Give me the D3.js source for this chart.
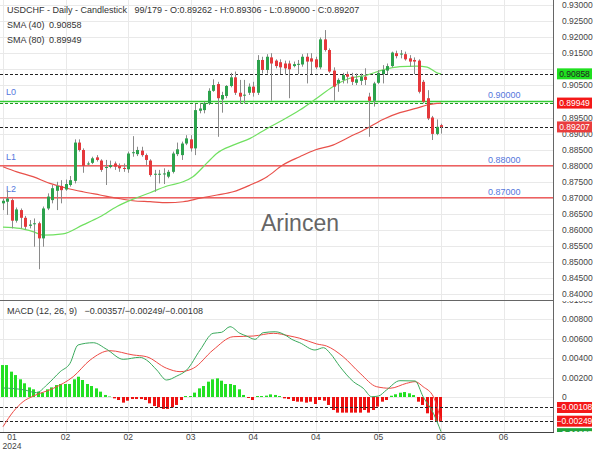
<!DOCTYPE html>
<html>
<head>
<meta charset="utf-8">
<script src="https://cdnjs.cloudflare.com/ajax/libs/d3/7.8.5/d3.min.js"></script>
<style>
  body { margin: 0; background: #fff; }
  svg { display: block; font-family: "Liberation Sans", Arial, sans-serif; }
</style>
</head>
<body>
<div id="chart"></div>
<script>
// ---- data ----
// daily candles, [open, high, low, close]
var ohlc = [
  [.8683,.8698,.8662,.8691],[.8688,.8724,.8647,.8698],[.8693,.8698,.8605,.8629],[.8629,.8670,.8623,.8664],
  [.8662,.8667,.8605,.8638],[.8638,.8644,.8602,.8610],[.8613,.8631,.8605,.8617],[.8618,.8636,.8548,.8621],
  [.8621,.8626,.8478,.8574],[.8574,.8673,.8548,.8667],[.8667,.8714,.8662,.8704],[.8693,.8740,.8683,.8730],
  [.8722,.8750,.8662,.8737],[.8737,.8755,.8683,.8724],[.8726,.8757,.8722,.8743],[.8740,.8768,.8735,.8755],
  [.8753,.8882,.8745,.8872],[.8872,.8882,.8844,.8849],[.8849,.8854,.8778,.8799],[.8805,.8813,.8801,.8807],
  [.8809,.8828,.8805,.8823],[.8826,.8833,.8813,.8818],[.8816,.8820,.8781,.8787],[.8794,.8818,.8740,.8796],
  [.8796,.8816,.8792,.8802],[.8807,.8813,.8787,.8797],[.8799,.8807,.8781,.8792],[.8793,.8807,.8781,.8791],
  [.8789,.8844,.8778,.8838],[.8840,.8892,.8828,.8842],[.8836,.8859,.8830,.8849],[.8847,.8859,.8828,.8833],
  [.8833,.8838,.8802,.8818],[.8816,.8820,.8766,.8771],[.8773,.8787,.8719,.8775],[.8772,.8787,.8745,.8775],
  [.8773,.8792,.8743,.8776],[.8766,.8787,.8761,.8781],[.8781,.8844,.8776,.8838],[.8836,.8872,.8830,.8851],
  [.8833,.8875,.8818,.8869],[.8869,.8895,.8864,.8885],[.8882,.8895,.8844,.8854],[.8854,.8992,.8833,.8973],
  [.8971,.8994,.8963,.8978],[.8973,.8999,.8963,.8994],[.8994,.9041,.8989,.9033],[.9033,.9069,.9030,.9051],
  [.9054,.9061,.8890,.9010],[.9006,.9030,.8965,.9020],[.9017,.9051,.9010,.9048],[.9048,.9089,.9044,.9075],
  [.9075,.9093,.9020,.9027],[.9027,.9067,.8992,.9015],[.9019,.9067,.8994,.9021],[.9027,.9056,.9020,.9046],
  [.9046,.9061,.9015,.9027],[.9027,.9144,.9020,.9129],[.9129,.9139,.9087,.9098],[.9098,.9147,.9087,.9139],
  [.9137,.9150,.9002,.9118],[.9127,.9131,.9103,.9110],[.9122,.9131,.9085,.9106],[.9118,.9127,.9082,.9103],
  [.9118,.9127,.9010,.9100],[.9110,.9124,.9106,.9116],[.9115,.9129,.9085,.9117],[.9115,.9147,.9108,.9139],
  [.9139,.9150,.9056,.9124],[.9134,.9150,.9085,.9124],[.9131,.9139,.9100,.9106],[.9106,.9199,.9100,.9193],
  [.9193,.9222,.9155,.9160],[.9160,.9165,.9089,.9093],[.9096,.9106,.9002,.9046],[.9056,.9072,.9030,.9067],
  [.9067,.9089,.9056,.9082],[.9085,.9093,.9056,.9077],[.9077,.9089,.9051,.9061],[.9058,.9087,.9051,.9069],
  [.9064,.9087,.9051,.9077],[.9077,.9103,.9051,.9067],[.9015,.9027,.8890,.9002],[.9002,.9061,.8984,.9056],
  [.9058,.9098,.9054,.9089],[.9085,.9113,.9056,.9098],[.9096,.9118,.9085,.9110],[.9110,.9155,.9106,.9152],
  [.9150,.9158,.9134,.9141],[.9146,.9160,.9134,.9149],[.9147,.9155,.9127,.9131],[.9134,.9144,.9108,.9124],
  [.9129,.9137,.9085,.9124],[.9127,.9131,.9025,.9030],[.9061,.9067,.8994,.8999],[.9010,.9035,.8942,.8947],
  [.8950,.8955,.8880,.8899],[.8899,.8944,.8895,.8921],[.89262,.89306,.89000,.89207]
];

// moving averages, [bar, value]
var sma40 = [[0,.8609],[3.8,.8605],[6.7,.8595],[9,.8584],[13.4,.8588],[17.9,.8616],[21.7,.8641],
  [25.5,.8673],[29.1,.8696],[32.9,.8716],[36.7,.8737],[40.3,.8750],[42.5,.8766],[45.6,.8808],
  [47.9,.8839],[51.5,.8864],[55.3,.8885],[59.1,.8916],[62.6,.8942],[66.4,.8973],[70.2,.9010],
  [73.8,.9046],[77.6,.9072],[81.4,.9082],[85,.9098],[88.8,.9108],[92.6,.9110],[94.9,.9107],
  [97.1,.9089],[98,.90858]];
var sma80 = [[0,.8797],[3.1,.8781],[6.7,.8766],[10.5,.8745],[14.3,.8730],[17.9,.8719],[21.7,.8709],
  [25.5,.8699],[29.1,.8691],[32.9,.8688],[36.7,.8685],[40.3,.8688],[44.1,.8699],[47.9,.8709],
  [51.5,.8719],[55.3,.8740],[59.1,.8766],[62.6,.8802],[66.4,.8828],[69.8,.8849],[73.8,.8864],
  [77.6,.8890],[81.4,.8916],[85,.8944],[88.8,.8965],[92.6,.8979],[94.9,.8989],[97.1,.8994],[98,.89949]];

// price levels
var levelNames = ["L0", "L1", "L2"];
var levelValues = [0.90, 0.88, 0.87];
var levelColors = ["#33cc33", "#f06060", "#f06060"];

// MACD (12, 26, 9), [bar, value]
var macdLine = [[0,.00093],[4.9,.00072],[7.5,.00044],[9.8,.00124],[12.8,.00261],[15,.00347],[16.8,.00536],
  [20.2,.00559],[23.2,.00491],[26.9,.00388],[30.6,.00409],[32.1,.00381],[34.4,.00278],[36.6,.00175],
  [38.9,.00216],[41.1,.00278],[44.1,.00484],[47,.00656],[48.9,.00666],[50.8,.00724],[53,.00656],
  [54.5,.00628],[56.4,.00594],[58.2,.00662],[60.9,.00672],[63.5,.00628],[64.6,.00594],[66.4,.00559],
  [69.8,.00484],[71.7,.00508],[73.2,.00450],[75.4,.00312],[78.4,.00158],[80.6,.00090],[82.5,.00003],
  [84,.00010],[85.8,.00072],[88.8,.00168],[92.2,.00165],[94,.00003],[96.3,-.00168],[98,-.00357]];
var signalLine = [[0,-.00306],[2.3,-.00151],[4.5,-.00048],[6.8,.00010],[11.3,.00090],[15.7,.00209],
  [19.5,.00381],[23.9,.00477],[29.1,.00433],[32.1,.00415],[36.6,.00296],[39.6,.00261],[42.6,.00296],
  [47,.00484],[51.5,.00621],[56,.00628],[60.5,.00656],[64.2,.00628],[66.4,.00605],[70.2,.00546],
  [72.4,.00525],[76.1,.00415],[79.9,.00244],[83.6,.00106],[86.6,.00090],[90.3,.00141],[92.2,.00158],
  [94,.00106],[96.3,.00003],[98,-.00249]];
var histogram = [.00329,.00329,.00261,.00226,.00182,.00141,.00099,.00079,.00055,.00045,
  .00079,.00099,.00123,.00134,.00134,.00134,.00182,.00209,.00175,.00134,
  .00113,.00089,.00055,.00021,.00005,-.00014,-.00031,-.00058,-.00038,-.00021,
  -.00021,-.00021,-.00031,-.00065,-.00093,-.00106,-.00123,-.00123,-.00106,-.00082,
  -.00031,.0001,.0001,.00045,.00089,.00113,.00158,.00182,.00192,.00168,
  .00134,.00134,.00123,.00079,.00021,-.0001,-.00031,.0001,.0001,.00014,
  .00027,.00021,.0001,-.00014,-.00021,-.00041,-.00048,-.00048,-.00058,-.00048,
  -.00072,-.00031,-.00038,-.00082,-.00134,-.00161,-.00161,-.00161,-.00161,-.00161,
  -.00161,-.00134,-.00161,-.00134,-.00099,-.00048,-.00031,.00013,.00028,.00044,
  .00051,.00038,.0002,-.00048,-.00082,-.00168,-.00237,-.00254,-.00254];

// axis ticks
var priceTicks = d3.range(0, 19).map(function(k) { return 0.84 + k * 0.005; });
var macdTicks = [-0.002, 0, 0.002, 0.004, 0.006, 0.008, 0.010];
var dateTickBars = [0, 14, 28, 42, 56, 70, 84, 98, 112];
var dateTickLabels = ["01", "02", "02", "03", "04", "04", "05", "06", "06"];

// current values shown as tags on the right
var smaLast = [0.90858, 0.89949];
var lastClose = 0.89207;
var macdLast = [-0.00357, -0.00249, -0.00108];

// ---- layout ----
var W = 600, H = 450;
var plotRight = 553;
var panelSplit = 300, macdBottom = 432;
var fmt = d3.format(".5f");

var x = d3.scaleLinear().domain([0, 98]).range([3, 441]);
var y = d3.scaleLinear().domain([0.84, 0.93]).range([294.3, 5]);
var ym = d3.scaleLinear().domain([0, 0.01]).range([397, 299.9]);

var svg = d3.select("#chart").append("svg")
    .attr("width", W)
    .attr("height", H);

var defs = svg.append("defs");
defs.append("clipPath").attr("id", "clipPrice")
  .append("rect").attr("x", 0).attr("y", 0).attr("width", plotRight).attr("height", panelSplit);
defs.append("clipPath").attr("id", "clipMacd")
  .append("rect").attr("x", 0).attr("y", panelSplit).attr("width", plotRight).attr("height", macdBottom - panelSplit);
defs.append("clipPath").attr("id", "clipPriceAxis")
  .append("rect").attr("x", plotRight).attr("y", 0).attr("width", W - plotRight).attr("height", panelSplit);
defs.append("clipPath").attr("id", "clipMacdAxis")
  .append("rect").attr("x", plotRight).attr("y", panelSplit + 1).attr("width", W - plotRight).attr("height", H - panelSplit);
defs.append("clipPath").attr("id", "clipMacdAxisLow")
  .append("rect").attr("x", plotRight).attr("y", panelSplit).attr("width", 50).attr("height", macdBottom - panelSplit);

var gridColor = "#e9e9e9";

// Grid lines
var grid = svg.append("g");
grid.selectAll(".hp").data(priceTicks).enter().append("line")
    .attr("x1", 0).attr("x2", plotRight)
    .attr("y1", function(d) { return Math.round(y(d)) + 0.5; })
    .attr("y2", function(d) { return Math.round(y(d)) + 0.5; })
    .attr("stroke", gridColor);
grid.selectAll(".hm").data(macdTicks.filter(function(d) { return d < 0.01; })).enter().append("line")
    .attr("x1", 0).attr("x2", plotRight)
    .attr("y1", function(d) { return Math.round(ym(d)) + 0.5; })
    .attr("y2", function(d) { return Math.round(ym(d)) + 0.5; })
    .attr("stroke", gridColor);
grid.selectAll(".v").data(dateTickBars).enter().append("line")
    .attr("x1", function(d) { return Math.round(x(d)) + 0.5; })
    .attr("x2", function(d) { return Math.round(x(d)) + 0.5; })
    .attr("y1", 0).attr("y2", macdBottom)
    .attr("stroke", gridColor);

// Watermark
svg.append("text")
    .attr("x", 300).attr("y", 231)
    .attr("text-anchor", "middle")
    .style("font-size", "23px")
    .style("fill", "#666")
    .text("Arincen");

// Price panel
var price = svg.append("g").attr("clip-path", "url(#clipPrice)");

// Level lines
levelValues.forEach(function(v, k) {
    price.append("line")
        .attr("x1", 0).attr("x2", plotRight)
        .attr("y1", y(v)).attr("y2", y(v))
        .attr("stroke", levelColors[k])
        .attr("stroke-width", 1.5);
    price.append("text")
        .attr("x", 6).attr("y", y(v) - 6)
        .style("font-size", "9px").style("fill", "#5577dd")
        .text(levelNames[k]);
    price.append("text")
        .attr("x", 488).attr("y", y(v) - 3)
        .style("font-size", "9px").style("fill", "#5577dd")
        .text(fmt(v));
});

// Dashed lines for current values
[smaLast[0], lastClose].forEach(function(v) {
    price.append("line")
        .attr("x1", 0).attr("x2", plotRight)
        .attr("y1", Math.round(y(v)) + 0.5).attr("y2", Math.round(y(v)) + 0.5)
        .attr("stroke", "#222")
        .attr("stroke-dasharray", "3,2");
});
price.append("line")
    .attr("x1", 0).attr("x2", plotRight)
    .attr("y1", Math.round(y(smaLast[1])) + 0.5).attr("y2", Math.round(y(smaLast[1])) + 0.5)
    .attr("stroke", "#1f9a1f")
    .attr("stroke-dasharray", "3,2");

// Moving averages
var maLine = d3.line()
    .x(function(d) { return x(d[0]); })
    .y(function(d) { return y(d[1]); })
    .curve(d3.curveMonotoneX);
price.append("path").datum(sma80)
    .attr("fill", "none").attr("stroke", "#e8504a").attr("stroke-width", 1.2)
    .attr("d", maLine);
price.append("path").datum(sma40)
    .attr("fill", "none").attr("stroke", "#70e060").attr("stroke-width", 1.2)
    .attr("d", maLine);

// Candles
var candles = price.selectAll(".candle").data(ohlc).enter().append("g");
candles.append("line")
    .attr("x1", function(d, i) { return Math.round(x(i)) + 0.5; })
    .attr("x2", function(d, i) { return Math.round(x(i)) + 0.5; })
    .attr("y1", function(d) { return y(d[1]); })
    .attr("y2", function(d) { return y(d[2]); })
    .attr("stroke", "#8a8a8a");
candles.append("rect")
    .attr("x", function(d, i) { return Math.round(x(i)) - 1; })
    .attr("width", 3)
    .attr("y", function(d) { return y(Math.max(d[0], d[3])); })
    .attr("height", function(d) { return Math.max(1, Math.abs(y(d[0]) - y(d[3]))); })
    .attr("fill", function(d) { return d[3] >= d[0] ? "#2ca24c" : "#e5383b"; });

// MACD panel
var macd = svg.append("g").attr("clip-path", "url(#clipMacd)");

macd.selectAll(".bar").data(histogram).enter().append("rect")
    .attr("x", function(d, i) { return Math.round(x(i)) - 2; })
    .attr("width", 3)
    .attr("y", function(d) { return Math.min(ym(d), ym(0)); })
    .attr("height", function(d) { return Math.abs(ym(d) - ym(0)); })
    .attr("fill", function(d) { return d >= 0 ? "#22e022" : "#ee1111"; });

[macdLast[2], macdLast[1]].forEach(function(v) {
    macd.append("line")
        .attr("x1", 0).attr("x2", plotRight)
        .attr("y1", Math.round(ym(v)) + 0.5).attr("y2", Math.round(ym(v)) + 0.5)
        .attr("stroke", "#222")
        .attr("stroke-dasharray", "3,2");
});

var mLine = d3.line()
    .x(function(d) { return x(d[0]); })
    .y(function(d) { return ym(d[1]); })
    .curve(d3.curveMonotoneX);
macd.append("path").datum(signalLine)
    .attr("fill", "none").attr("stroke", "#ee4a44").attr("stroke-width", 1)
    .attr("d", mLine);
macd.append("path").datum(macdLine)
    .attr("fill", "none").attr("stroke", "#3aaa5c").attr("stroke-width", 1)
    .attr("d", mLine);

// Frame lines
svg.append("line").attr("x1", plotRight + 0.5).attr("x2", plotRight + 0.5)
    .attr("y1", 0).attr("y2", macdBottom).attr("stroke", "#666");
svg.append("line").attr("x1", 0).attr("x2", plotRight)
    .attr("y1", panelSplit + 0.5).attr("y2", panelSplit + 0.5).attr("stroke", "#666");
svg.append("line").attr("x1", 0).attr("x2", plotRight + 1)
    .attr("y1", macdBottom + 0.5).attr("y2", macdBottom + 0.5).attr("stroke", "#444");

// Right axes (labels hidden behind a value tag are skipped)
var priceTags = smaLast.concat([lastClose]);
var macdTags = macdLast;
function hidden(v, tags, sc) {
    return tags.some(function(t) { return Math.abs(sc(v) - sc(t)) < 5; });
}

var priceAxis = svg.append("g").attr("clip-path", "url(#clipPriceAxis)");
priceAxis.selectAll("text").data(priceTicks.filter(function(d) { return !hidden(d, priceTags, y); }))
  .enter().append("text")
    .attr("x", 562).attr("y", function(d) { return y(d) + 3; })
    .style("font-size", "8.5px").style("fill", "#444")
    .text(fmt);

var macdAxis = svg.append("g").attr("clip-path", "url(#clipMacdAxis)");
macdAxis.selectAll("text").data(macdTicks.filter(function(d) { return !hidden(d, macdTags, ym); }))
  .enter().append("text")
    .attr("x", 562).attr("y", function(d) { return ym(d) + 3; })
    .style("font-size", "8.5px").style("fill", "#444")
    .text(function(d) { return d === 0 ? "0" : fmt(d); });

// Value tags
function tag(g, yy, txt, fill, color) {
    g.append("rect").attr("x", 557).attr("y", yy - 5.5).attr("width", 35).attr("height", 11)
        .attr("fill", fill);
    g.append("text").attr("x", 574.5).attr("y", yy + 3)
        .attr("text-anchor", "middle")
        .style("font-size", "8.5px").style("fill", color)
        .text(txt);
}
tag(priceAxis, y(smaLast[0]), fmt(smaLast[0]), "#1fe01f", "#222");
tag(priceAxis, y(smaLast[1]), fmt(smaLast[1]), "#f41818", "#fff");
tag(priceAxis, y(lastClose), fmt(lastClose), "#ea3d3d", "#fff");
tag(macdAxis, ym(macdLast[2]), fmt(macdLast[2]), "#f41818", "#fff");
tag(macdAxis, ym(macdLast[1]), fmt(macdLast[1]), "#f41818", "#fff");
var lowTag = svg.append("g").attr("clip-path", "url(#clipMacdAxisLow)");
tag(lowTag, ym(macdLast[0]) + 2, fmt(macdLast[0]), "#22a23a", "#fff");

// Date axis
svg.selectAll(".dt").data(dateTickBars).enter().append("text")
    .attr("x", function(d) { return Math.max(12, x(d)); })
    .attr("y", 440)
    .attr("text-anchor", "middle")
    .style("font-size", "8.5px").style("fill", "#444")
    .text(function(d, i) { return dateTickLabels[i]; });
svg.append("text")
    .attr("x", 12).attr("y", 449)
    .attr("text-anchor", "middle")
    .style("font-size", "8.5px").style("fill", "#444")
    .text("2024");

// Headers
var head = svg.append("g").style("font-size", "9px").style("fill", "#333");
head.append("text").attr("x", 7).attr("y", 13)
    .attr("xml:space", "preserve")
    .text("USDCHF - Daily - Candlestick   99/179 - O:0.89262 - H:0.89306 - L:0.89000 - C:0.89207");
head.append("text").attr("x", 7).attr("y", 28).text("SMA (40)");
head.append("text").attr("x", 49).attr("y", 28).text(fmt(smaLast[0]));
head.append("text").attr("x", 7).attr("y", 43).text("SMA (80)");
head.append("text").attr("x", 49).attr("y", 43).text(fmt(smaLast[1]));
head.append("text").attr("x", 7).attr("y", 314)
    .attr("xml:space", "preserve")
    .text("MACD (12, 26, 9)   " + macdLast.map(fmt).join("/"));
</script>
</body>
</html>
